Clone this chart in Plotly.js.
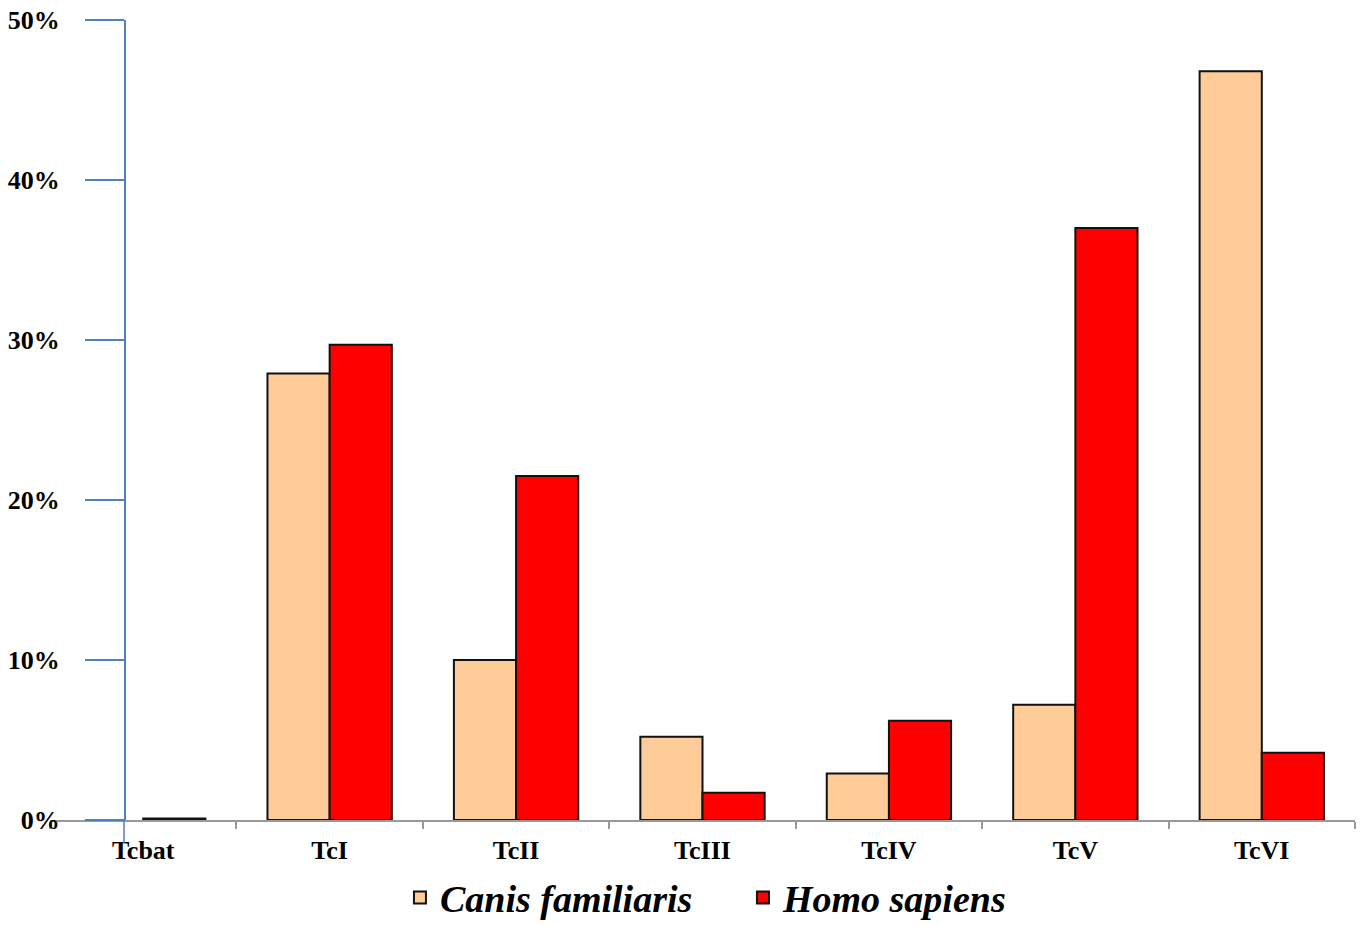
<!DOCTYPE html>
<html>
<head>
<meta charset="utf-8">
<script src="https://cdn.plot.ly/plotly-3.0.1.min.js"></script>
<style>html,body{margin:0;padding:0;background:#fff;}#chart{width:1362px;height:926px;}</style>
</head>
<body>
<div id="chart"></div>
<script>
var categories = ["Tcbat", "TcI", "TcII", "TcIII", "TcIV", "TcV", "TcVI"];
var canisValues = [null, 27.9, 10.0, 5.2, 2.9, 7.2, 46.8];
var homoValues = [0.1, 29.7, 21.5, 1.7, 6.2, 37.0, 4.2];
var seriesNames = ["Canis familiaris", "Homo sapiens"];
var yTickVals = [0, 10, 20, 30, 40, 50];
var yTickText = ["0%", "10%", "20%", "30%", "40%", "50%"];

var serif = "Liberation Serif, Times New Roman, serif";
var axisBlue = "#4F81BD";

var traces = [
  {type: "bar", name: seriesNames[0], x: categories, y: canisValues,
   marker: {color: "#FFCC99", line: {color: "#111", width: 2}}},
  {type: "bar", name: seriesNames[1], x: categories, y: homoValues,
   marker: {color: "#FF0000", line: {color: "#111", width: 2}}}
];

var yPos = (124 - 50) / 1305;

var layout = {
  width: 1362, height: 926,
  margin: {l: 50, r: 7, t: 20, b: 106, autoexpand: false},
  paper_bgcolor: "#fff", plot_bgcolor: "#fff",
  barmode: "group", bargap: 0.333, bargroupgap: 0,
  showlegend: true,
  legend: {orientation: "h", x: 0.531, xanchor: "center", y: -0.058, yanchor: "top",
           entrywidth: 298, entrywidthmode: "pixels",
           font: {family: serif, size: 38, color: "#000", weight: "bold", style: "italic"},
           traceorder: "normal"},
  xaxis: {type: "category", range: [-0.5, 6.5], showline: true, linecolor: "#999", linewidth: 2,
          ticks: "outside", tickson: "boundaries", ticklen: 7, tickcolor: "#999", tickwidth: 2,
          ticklabelstandoff: 6,
          showgrid: false, zeroline: false,
          tickfont: {family: serif, size: 26, color: "#000", weight: "bold"}},
  yaxis: {range: [0, 50], anchor: "free", position: yPos, showline: true, linecolor: axisBlue, linewidth: 1.5,
          ticks: "outside", ticklen: 39, tickcolor: axisBlue, tickwidth: 1.5,
          tickvals: yTickVals, ticktext: yTickText, ticklabelstandoff: 20,
          showgrid: false, zeroline: false,
          tickfont: {family: serif, size: 26, color: "#000", weight: "bold"}},
  shapes: [
    {type: "line", xref: "paper", yref: "paper", x0: yPos, x1: yPos, y0: -0.029, y1: 0,
     line: {color: axisBlue, width: 1.5}}
  ]
};

Plotly.newPlot("chart", traces, layout, {displayModeBar: false, staticPlot: true});
</script>
</body>
</html>
